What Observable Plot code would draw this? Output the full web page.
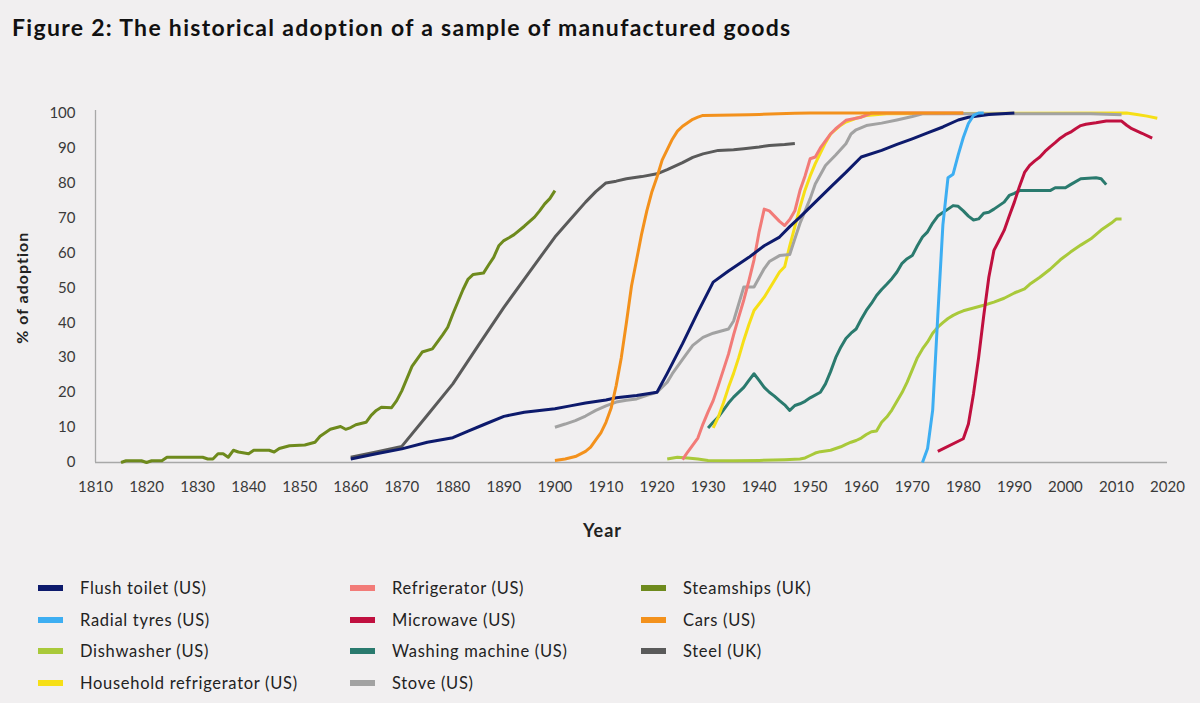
<!DOCTYPE html>
<html>
<head>
<meta charset="utf-8">
<script src="https://cdn.jsdelivr.net/npm/d3@7"></script>
<script src="https://cdn.jsdelivr.net/npm/@observablehq/plot@0.6"></script>
<style>
  html, body { margin: 0; padding: 0; background: #f1eff0; }
  #wrap { position: relative; width: 1200px; height: 703px; background: #f1eff0; font-family: Lato, "DejaVu Sans", sans-serif; overflow: hidden; }
  #title { position: absolute; left: 12px; top: 13px; font-size: 23px; letter-spacing: 1.3px; font-weight: 700; color: #111; white-space: nowrap; }
  #chart { position: absolute; left: 0; top: 60px; }
  #legend { position: absolute; left: 38px; top: 572px; display: grid; grid-template-columns: 312px 291px 300px; grid-auto-rows: 31.7px; }
  .item { display: flex; align-items: center; font-size: 16.5px; letter-spacing: 0.7px; color: #222; white-space: nowrap; }
  .sw { width: 25px; height: 6px; margin-right: 17px; flex: none; }
</style>
</head>
<body>
<div id="wrap">
  <div id="title">Figure 2: The historical adoption of a sample of manufactured goods</div>
  <div id="chart"></div>
  <div id="legend"></div>
</div>
<script>
// ---- Data (year, % of adoption) ----
const flushToilet = [[1860,1],[1865,2.5],[1870,3.9],[1875,5.8],[1880,7.1],[1883,9],[1886,10.8],[1890,13.2],[1894,14.4],[1897,14.9],[1900,15.4],[1903,16.2],[1906,17],[1910,17.9],[1912,18.5],[1916,19.2],[1920,20.1],[1922,25.5],[1925,34],[1928,43],[1931,51.6],[1934,54.8],[1938,58.7],[1941,62],[1944,64.5],[1946,67.5],[1948,70.2],[1951,74.5],[1954,78.8],[1957,83],[1960,87.4],[1964,89.3],[1967,91],[1970,92.6],[1973,94.3],[1976,96],[1979,98],[1981,98.8],[1985,99.6],[1990,100]];
const radialTyres = [[1972,0],[1973,4],[1974,15],[1975,42],[1976,68],[1977,81.5],[1978,82.5],[1979,88],[1980,93],[1981,97],[1982,99.3],[1983,100],[1984,100]];
const dishwasher = [[1922,1],[1924,1.5],[1926,1.3],[1928,1],[1930,0.6],[1935,0.5],[1940,0.6],[1945,0.8],[1948,1],[1949,1.3],[1950,2],[1951,2.7],[1952,3.1],[1954,3.5],[1955,4],[1956,4.5],[1957,5.2],[1958,5.8],[1959,6.3],[1960,7],[1961,8],[1962,8.8],[1963,9],[1964,11.5],[1965,13],[1966,15],[1967,17.5],[1968,20],[1969,23],[1970,26.5],[1971,30],[1972,32.5],[1973,34.5],[1974,37],[1975,38.7],[1976,40],[1977,41.2],[1978,42.1],[1979,42.8],[1980,43.4],[1982,44.2],[1984,45],[1986,45.9],[1988,47],[1990,48.5],[1992,49.7],[1993,51],[1995,53],[1997,55.3],[1999,58],[2001,60.2],[2003,62.2],[2005,64],[2007,66.5],[2009,68.5],[2010,69.7],[2011,69.7]];
const householdRefrigerator = [[1931,9.9],[1932,13],[1933,17],[1934,21.5],[1935,25.5],[1936,30],[1937,35],[1938,39.5],[1939,43.5],[1941,47.3],[1943,52.1],[1944,54.5],[1945,56],[1946,62],[1947,67.5],[1948,73],[1949,78],[1950,82],[1951,85.5],[1952,88.5],[1953,91.5],[1954,94],[1956,96.5],[1957,97.4],[1959,98.5],[1961,99.3],[1965,99.8],[2012,100],[2014,99.6],[2016,99.1],[2018,98.5]];
const refrigerator = [[1925,0.8],[1926,3],[1927,5],[1928,7],[1929,11],[1930,14.5],[1931,17.7],[1932,22],[1933,26.5],[1934,31],[1935,36.5],[1936,41.6],[1937,46.5],[1938,52],[1939,58],[1940,66],[1941,72.5],[1942,72],[1943,70.5],[1944,69],[1945,67.8],[1946,69.5],[1947,72],[1948,77.8],[1949,82],[1950,86.9],[1951,87.4],[1952,90],[1953,92],[1954,94],[1955,95.5],[1957,97.9],[1960,98.8],[1962,100],[1980,100]];
const microwave = [[1975,3.2],[1980,6.8],[1981,11],[1982,19.7],[1983,30],[1984,42],[1985,53],[1986,60.7],[1987,63.5],[1988,66.4],[1989,70.5],[1990,74.5],[1991,79],[1992,83],[1993,85],[1994,86.3],[1995,87.4],[1996,89],[1997,90.3],[1998,91.5],[1999,92.8],[2000,93.8],[2001,94.5],[2002,95.5],[2003,96.4],[2004,96.8],[2006,97.2],[2008,97.7],[2011,97.7],[2012,96.5],[2013,95.5],[2015,94.2],[2017,92.8]];
const washingMachine = [[1930,9.9],[1931,11.5],[1932,13],[1933,15],[1934,17],[1935,18.7],[1937,21.5],[1938,23.5],[1939,25.4],[1940,23.5],[1941,21.5],[1942,20.1],[1943,19],[1944,17.7],[1945,16.5],[1946,14.9],[1947,16.3],[1948,16.8],[1949,17.5],[1950,18.5],[1952,20.1],[1953,22.5],[1954,26],[1955,30],[1956,33],[1957,35.5],[1958,37],[1959,38.2],[1960,41],[1961,43.5],[1962,45.5],[1963,47.8],[1964,49.5],[1965,51],[1966,52.6],[1967,54.5],[1968,57],[1969,58.3],[1970,59.2],[1971,62],[1972,64.5],[1973,66],[1974,68.5],[1975,70.5],[1976,71.5],[1977,72.5],[1978,73.5],[1979,73.3],[1980,72],[1981,70.5],[1982,69.4],[1983,69.7],[1984,71.3],[1985,71.6],[1986,72.5],[1987,73.5],[1988,74.5],[1989,76.4],[1990,77],[1991,77.8],[1997,77.8],[1998,78.6],[2000,78.6],[2001,79.5],[2003,81.2],[2006,81.5],[2007,81.2],[2008,79.5]];
const stove = [[1900,10.1],[1902,11],[1904,12],[1906,13.3],[1908,14.9],[1910,16.2],[1912,17.3],[1914,17.8],[1916,18.2],[1918,19.2],[1920,20.1],[1922,23],[1923,25.4],[1925,29.5],[1927,33.5],[1929,35.8],[1931,37],[1934,38.2],[1935,40.5],[1937,50.2],[1939,50.2],[1941,55.5],[1942,57.5],[1944,59.2],[1946,59.5],[1947,64],[1948,68.4],[1950,75.5],[1951,79.7],[1953,85],[1955,88],[1957,91.2],[1958,94],[1959,95.2],[1961,96.4],[1964,97.1],[1967,98],[1970,99],[1972,99.8],[2005,99.8],[2011,99.5]];
const steamships = [[1815,0],[1816,0.5],[1819,0.5],[1820,0],[1821,0.5],[1823,0.5],[1824,1.5],[1831,1.5],[1832,1],[1833,1],[1834,2.5],[1835,2.5],[1836,1.5],[1837,3.5],[1838,3],[1840,2.5],[1841,3.5],[1844,3.5],[1845,3],[1846,4],[1848,4.8],[1851,5],[1853,5.8],[1854,7.5],[1855,8.5],[1856,9.5],[1858,10.3],[1859,9.5],[1860,10],[1861,10.8],[1863,11.5],[1864,13.5],[1865,14.9],[1866,15.8],[1868,15.7],[1869,17.7],[1870,20.5],[1871,24],[1872,27.5],[1874,31.6],[1876,32.5],[1878,36.5],[1879,38.7],[1880,42.5],[1881,46],[1882,49.5],[1883,52.5],[1884,53.8],[1886,54.2],[1887,56.5],[1888,58.7],[1889,62],[1890,63.5],[1891,64.3],[1892,65.2],[1894,67.6],[1896,70.2],[1897,72],[1898,74],[1899,75.5],[1900,77.8]];
const cars = [[1900,0.6],[1902,1],[1904,1.7],[1906,3.2],[1907,4.4],[1908,6.5],[1909,8.5],[1910,11.5],[1911,15.5],[1912,22],[1913,30],[1914,40],[1915,50.5],[1916,58],[1917,65.5],[1918,72],[1919,77.5],[1920,81.7],[1921,86.5],[1922,89.5],[1923,92.5],[1924,94.8],[1925,96.2],[1926,97.2],[1927,98.2],[1928,98.8],[1929,99.3],[1938,99.5],[1940,99.6],[1947,99.9],[1950,100],[1980,100]];
const steel = [[1860,1.5],[1865,3],[1870,4.6],[1875,13.5],[1880,22.5],[1885,33.5],[1890,44.4],[1895,54.5],[1900,64.5],[1903,69.5],[1906,74.5],[1908,77.5],[1910,80],[1912,80.5],[1914,81.2],[1917,81.8],[1920,82.6],[1922,83.8],[1925,85.8],[1927,87.3],[1929,88.3],[1932,89.3],[1935,89.5],[1937,89.8],[1940,90.3],[1942,90.7],[1945,91],[1947,91.3]];

// legend order (row by row, 3 columns)
const legendNames = ["Flush toilet (US)","Refrigerator (US)","Steamships (UK)","Radial tyres (US)","Microwave (US)","Cars (US)","Dishwasher (US)","Washing machine (US)","Steel (UK)","Household refrigerator (US)","Stove (US)"];
const seriesColors = {
  "Flush toilet (US)": "#0d1a6c",
  "Radial tyres (US)": "#3daef2",
  "Dishwasher (US)": "#a9c93a",
  "Household refrigerator (US)": "#f6df16",
  "Refrigerator (US)": "#f27b78",
  "Microwave (US)": "#c0103f",
  "Washing machine (US)": "#2a7a6e",
  "Stove (US)": "#a2a2a2",
  "Steamships (UK)": "#6e8a1d",
  "Cars (US)": "#f3911c",
  "Steel (UK)": "#5a5a5a"
};
// drawing order (bottom to top)
const drawOrder = [
  ["Dishwasher (US)", dishwasher],
  ["Washing machine (US)", washingMachine],
  ["Steel (UK)", steel],
  ["Steamships (UK)", steamships],
  ["Household refrigerator (US)", householdRefrigerator],
  ["Stove (US)", stove],
  ["Refrigerator (US)", refrigerator],
  ["Flush toilet (US)", flushToilet],
  ["Cars (US)", cars],
  ["Radial tyres (US)", radialTyres],
  ["Microwave (US)", microwave]
];
const xTicks = d3.range(1810, 2021, 10);
const yTicks = d3.range(0, 101, 10);
const xLabel = "Year";
const yLabel = "% of adoption";

const rows = drawOrder.flatMap(([name, pts]) => pts.map(([year, value]) => ({name, year, value})));

const chart = Plot.plot({
  width: 1200,
  height: 490,
  marginLeft: 95,
  marginRight: 33,
  marginTop: 52.5,
  marginBottom: 88,
  style: {background: "transparent", fontFamily: "Lato, 'DejaVu Sans', sans-serif", fontSize: "15px", color: "#3a3a3a", overflow: "visible"},
  x: {domain: [1810, 2020]},
  y: {domain: [0, 100]},
  color: {domain: legendNames, range: legendNames.map(n => seriesColors[n])},
  marks: [
    Plot.axisX({ticks: xTicks, tickSize: 0, tickPadding: 19, tickFormat: d => String(d), label: null, fontSize: 15}),
    Plot.axisY({ticks: yTicks, tickSize: 0, tickPadding: 20, label: null, fontSize: 15}),
    Plot.ruleX([1810], {y1: 0, y2: 100.7, stroke: "#a8a8a8", strokeWidth: 1.3}),
    Plot.ruleY([0], {x1: 1810, x2: 2020, stroke: "#a8a8a8", strokeWidth: 1.3}),
    Plot.lineY(rows, {x: "year", y: "value", z: "name", stroke: "name", strokeWidth: 3, strokeLinejoin: "round", strokeLinecap: "butt", sort: null}),
    Plot.text([xLabel], {frameAnchor: "bottom", dx: -29, dy: 74, textAnchor: "middle", fontWeight: "bold", fontSize: 18, fill: "#222"}),
    Plot.text([yLabel], {frameAnchor: "left", dx: -73, rotate: -90, textAnchor: "middle", fontWeight: "bold", fontSize: 16, fill: "#222"})
  ]
});
d3.select(chart).selectAll("text").filter(function() { return this.textContent === yLabel || this.textContent === xLabel; }).style("letter-spacing", "1px");
document.getElementById("chart").appendChild(chart);

const legend = document.getElementById("legend");
for (const n of legendNames) {
  const it = document.createElement("div");
  it.className = "item";
  const sw = document.createElement("span");
  sw.className = "sw";
  sw.style.background = seriesColors[n];
  it.appendChild(sw);
  it.appendChild(document.createTextNode(n));
  legend.appendChild(it);
}
</script>
</body>
</html>
